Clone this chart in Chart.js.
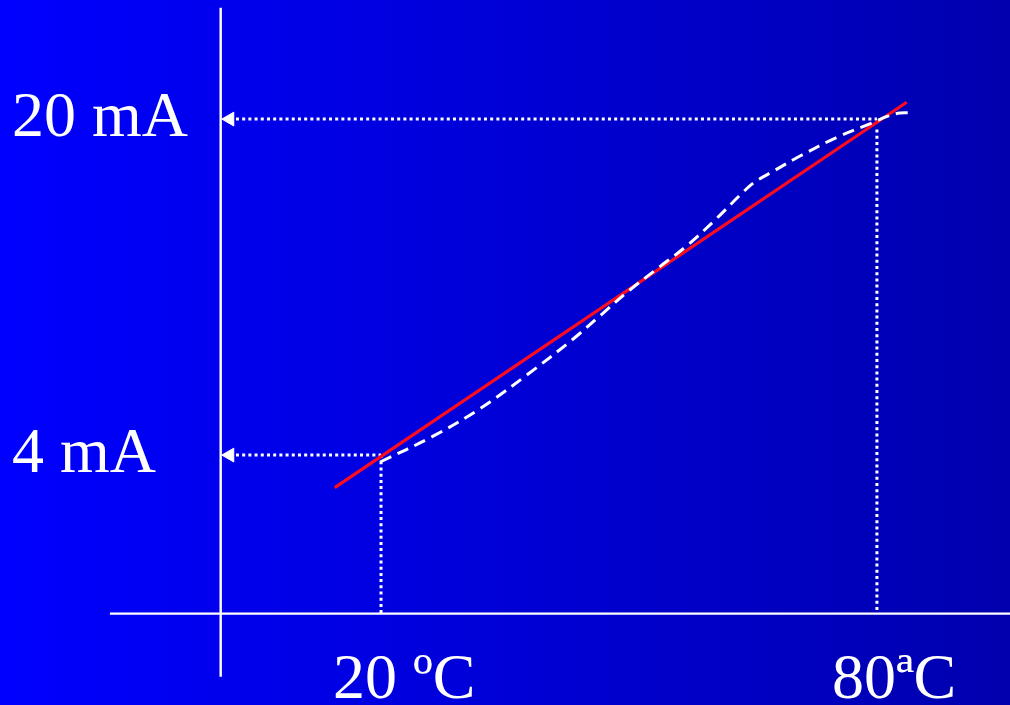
<!DOCTYPE html>
<html>
<head>
<meta charset="utf-8">
<title>Transmisor 4–20 mA</title>
<script src="https://cdn.jsdelivr.net/npm/chart.js@4.4.1/dist/chart.umd.min.js"></script>
<style>
  html, body { margin: 0; padding: 0; overflow: hidden; background: #0000d0; }
  #wrap { width: 1010px; height: 705px; }
  #c { display: block; background: linear-gradient(to right, #0000ff 0%, #0000ae 100%); }
</style>
</head>
<body>
<div id="wrap"><canvas id="c" width="1010" height="705"></canvas></div>
<script>
// Measured sensor response: temperature (°C) vs loop current (mA)
const curveTemp    = [19.9, 26.3, 32.1, 37.8, 43.1, 46.6, 50.1, 53.5, 57.1, 60.4, 63.7, 65.2, 67.3, 70.7, 75.2, 79.4, 81.3, 82.8, 84.4];
const curveCurrent = [3.67, 4.90, 6.24, 7.86, 9.48, 10.67, 11.86, 12.90, 14.00, 15.19, 16.48, 17.00, 17.48, 18.24, 19.14, 19.81, 20.14, 20.29, 20.29];

// Ideal linear transfer line
const lineTemp    = [14.4, 83.6];
const lineCurrent = [2.45, 20.80];

// Span end points: 20 °C -> 4 mA, 80 °C -> 20 mA
const spanTemp    = [20, 80];
const spanCurrent = [4, 20];
const guideTopCurrent = [4, 19.5];

// Axis lines (where the drawn axes cross, in data units)
const axisYTemp    = 0.6;
const axisXCurrent = -3.55;
const axisXTemp    = [-12.8, 96.1];
const axisYCurrent = [25.3, -6.55];
const arrowTemp    = 1.7;

// Axis labels
const currentLabels = ['20 mA', '4 mA'];
const tempLabels    = ['20 ºC', '80ªC'];

const WHITE = '#ffffff';
const pts = (xs, ys) => xs.map((x, i) => ({ x, y: ys[i] }));

const datasets = [];

// dashed measured curve (on top)
datasets.push({
  data: pts(curveTemp, curveCurrent),
  borderColor: WHITE, borderWidth: 3, borderDash: [12, 7],
  tension: 0.35, pointRadius: 0, showLine: true, clip: false
});
// red ideal line
datasets.push({
  data: pts(lineTemp, lineCurrent),
  borderColor: '#ff0a1e', borderWidth: 3.2,
  pointRadius: 0, showLine: true, clip: false
});
// dotted guides with arrowheads at the current axis
spanTemp.forEach((t, i) => {
  datasets.push({
    data: [{ x: arrowTemp, y: spanCurrent[i] }, { x: t, y: spanCurrent[i] }],
    borderColor: WHITE, borderWidth: 3, borderDash: [3, 3.2],
    showLine: true, clip: false,
    pointStyle: 'triangle', rotation: -90,
    pointRadius: [8, 0], pointBackgroundColor: WHITE, pointBorderColor: WHITE, pointBorderWidth: 1
  });
  datasets.push({
    data: [{ x: t, y: guideTopCurrent[i] }, { x: t, y: axisXCurrent }],
    borderColor: WHITE, borderWidth: 3, borderDash: [3, 3.2],
    pointRadius: 0, showLine: true, clip: false
  });
});
// axes
datasets.push({
  data: [{ x: axisYTemp, y: axisYCurrent[0] }, { x: axisYTemp, y: axisYCurrent[1] }],
  borderColor: WHITE, borderWidth: 2.4, pointRadius: 0, showLine: true, clip: false
});
datasets.push({
  data: [{ x: axisXTemp[0], y: axisXCurrent }, { x: axisXTemp[1], y: axisXCurrent }],
  borderColor: WHITE, borderWidth: 2.4, pointRadius: 0, showLine: true, clip: false
});

// axis texts placed from the scales
const labelPlugin = {
  id: 'axisText',
  afterDraw(chart) {
    const { ctx, scales: { x, y } } = chart;
    ctx.save();
    ctx.fillStyle = WHITE;
    ctx.font = '64px "Liberation Serif", "Times New Roman", serif';
    ctx.textAlign = 'left';
    ctx.textBaseline = 'middle';
    spanCurrent.slice().reverse().forEach((v, i) => {
      ctx.fillText(currentLabels[i], 12, y.getPixelForValue(v));
    });
    ctx.textBaseline = 'alphabetic';
    const shift = [-48, -45];
    spanTemp.forEach((t, i) => {
      ctx.fillText(tempLabels[i], x.getPixelForValue(t) + shift[i], 698);
    });
    ctx.restore();
  }
};

new Chart(document.getElementById('c'), {
  type: 'scatter',
  data: { datasets },
  options: {
    responsive: false,
    animation: false,
    events: [],
    layout: { padding: 0, autoPadding: false },
    plugins: { legend: { display: false }, tooltip: { enabled: false } },
    scales: {
      x: { type: 'linear', display: false, min: -26.1, max: 96.1 },
      y: { type: 'linear', display: false, min: -7.9, max: 25.67 }
    }
  },
  plugins: [labelPlugin]
});
</script>
</body>
</html>
